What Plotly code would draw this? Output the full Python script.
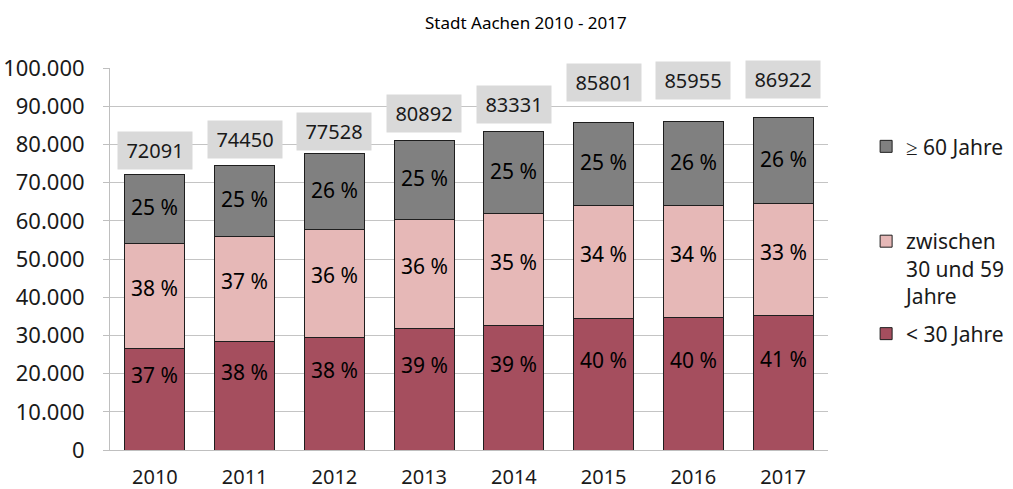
import plotly.graph_objects as go

years = ["2010", "2011", "2012", "2013", "2014", "2015", "2016", "2017"]
under30 = [26600, 28400, 29500, 31900, 32700, 34300, 34600, 35300]
between30_59 = [27500, 27600, 28300, 28500, 29100, 29700, 29400, 29100]
over60 = [17991, 18450, 19728, 20492, 21531, 21801, 21955, 22522]
totals = [72091, 74450, 77528, 80892, 83331, 85801, 85955, 86922]
pct_under30 = ["37 %", "38 %", "38 %", "39 %", "39 %", "40 %", "40 %", "41 %"]
pct_between = ["38 %", "37 %", "36 %", "36 %", "35 %", "34 %", "34 %", "33 %"]
pct_over60 = ["25 %", "25 %", "26 %", "25 %", "25 %", "25 %", "26 %", "26 %"]
y_ticks = [0, 10000, 20000, 30000, 40000, 50000, 60000, 70000, 80000, 90000, 100000]
y_tick_labels = ["0", "10.000", "20.000", "30.000", "40.000", "50.000",
                 "60.000", "70.000", "80.000", "90.000", "100.000"]

FONT = "Noto Sans"
C_YOUNG = "#A54E5E"
C_MID = "#E6B8B7"
C_OLD = "#808080"
OUTLINE = "#1E1E1E"

# pixel offsets of the total boxes above the bar tops (style only)
total_shift = [24, 26, 22, 27, 27, 40, 41, 38]

fig = go.Figure()
fig.add_trace(go.Bar(x=years, y=under30, name="< 30 Jahre",
                     marker=dict(color=C_YOUNG, line=dict(color=OUTLINE, width=1)),
                     legend="legend3", showlegend=True))
fig.add_trace(go.Bar(x=years, y=between30_59, name="zwischen<br>30 und 59<br>Jahre",
                     marker=dict(color=C_MID, line=dict(color=OUTLINE, width=1)),
                     legend="legend2", showlegend=True))
fig.add_trace(go.Bar(x=years, y=over60, name="≥ 60 Jahre",
                     marker=dict(color=C_OLD, line=dict(color=OUTLINE, width=1)),
                     legend="legend", showlegend=True))

annotations = []
for i, yr in enumerate(years):
    b1 = under30[i]
    b2 = b1 + between30_59[i]
    annotations.append(dict(x=i, y=b1 / 2, text=pct_under30[i], showarrow=False,
                            yshift=24, font=dict(family=FONT, size=21, color="black")))
    annotations.append(dict(x=i, y=b1 + between30_59[i] / 2, text=pct_between[i],
                            showarrow=False, yshift=8,
                            font=dict(family=FONT, size=21, color="black")))
    annotations.append(dict(x=i, y=b2 + over60[i] / 2, text=pct_over60[i],
                            showarrow=False, yshift=2,
                            font=dict(family=FONT, size=21, color="black")))
    annotations.append(dict(x=i, y=totals[i], text=str(totals[i]), showarrow=False,
                            yanchor="middle", yshift=total_shift[i],
                            bgcolor="#D9D9D9", width=72, height=35,
                            font=dict(family=FONT, size=20, color="#1a1a1a")))

annotations.append(dict(xref="paper", yref="paper", x=0.579, y=1.12,
                        text="Stadt Aachen 2010 - 2017", showarrow=False,
                        yanchor="middle", font=dict(family=FONT, size=17, color="black")))

legend_common = dict(xref="container", yref="container", bgcolor="rgba(0,0,0,0)",
                     font=dict(family=FONT, size=21, color="#1a1a1a"),
                     itemwidth=30)

fig.update_layout(
    width=1013, height=489,
    margin=dict(l=110, r=185, t=68, b=39, autoexpand=False),
    paper_bgcolor="white", plot_bgcolor="white",
    barmode="stack", bargap=0.33, showlegend=True,
    font=dict(family=FONT, size=21, color="#1a1a1a"),
    annotations=annotations,
    legend=dict(x=0.855, y=0.70, xanchor="left", yanchor="middle", **legend_common),
    legend2=dict(x=0.855, y=0.548, xanchor="left", yanchor="top", valign="top",
                 **legend_common),
    legend3=dict(x=0.855, y=0.317, xanchor="left", yanchor="middle", **legend_common),
    xaxis=dict(type="category", range=[-0.5, 7.5], showline=True, linecolor="#BFBFBF",
               linewidth=1, ticks="", showgrid=False, automargin=False,
               ticklabelstandoff=9,
               tickfont=dict(family=FONT, size=20, color="#1a1a1a")),
    yaxis=dict(range=[0, 100000], tickvals=y_ticks, ticktext=y_tick_labels,
               showgrid=True, gridcolor="#C4C4C4", gridwidth=1,
               showline=True, linecolor="#BFBFBF", linewidth=1,
               ticks="outside", ticklen=6, tickcolor="#BFBFBF",
               zeroline=False, automargin=False, ticklabelstandoff=14,
               tickfont=dict(family=FONT, size=22, color="#1a1a1a")),
)

fig.write_html("out.html", config={"displayModeBar": False},
               post_script="document.body.style.margin='0';document.body.style.overflow='hidden';")
